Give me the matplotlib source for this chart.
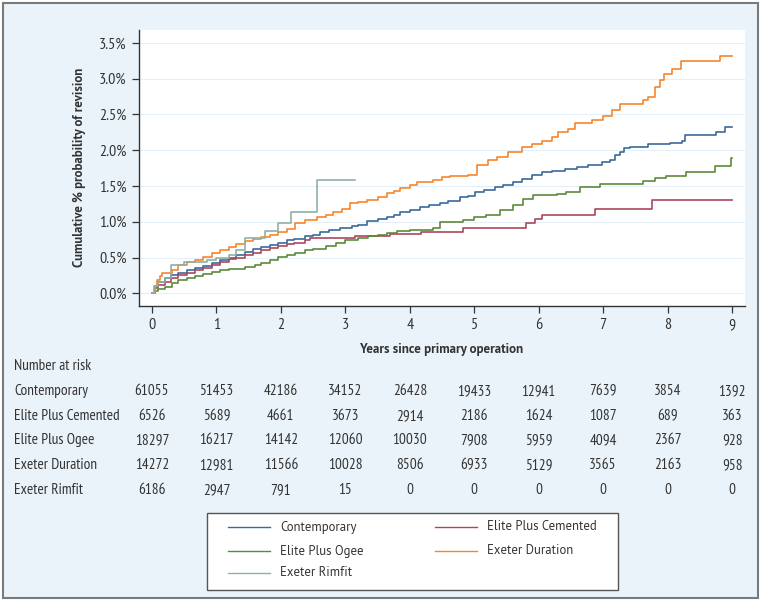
import matplotlib
matplotlib.use('Agg')
import matplotlib.pyplot as plt
from matplotlib.patches import Rectangle
from matplotlib.lines import Line2D

plt.close('all')

# ---------------------------------------------------------------------------
# data (years, cumulative % revision)
contemp_t = [0, 0.05, 0.1, 0.2, 0.3, 0.41, 0.55, 0.67, 0.8, 0.93, 1.05, 1.19, 1.3, 1.44, 1.57,
             1.7, 1.83, 1.96, 2.1, 2.2, 2.37, 2.5, 2.61, 2.75, 2.92, 3.1, 3.2, 3.33, 3.5, 3.64,
             3.75, 3.85, 4.0, 4.16, 4.3, 4.47, 4.6, 4.78, 4.9, 5.01, 5.15, 5.32, 5.45, 5.6, 5.74,
             5.9, 6.05, 6.2, 6.41, 6.6, 6.77, 6.98, 7.1, 7.18, 7.26, 7.33, 7.42, 7.7, 8.03, 8.22,
             8.27, 8.75, 8.89, 9.0]
contemp_y = [0, 0.10, 0.16, 0.22, 0.25, 0.28, 0.32, 0.35, 0.38, 0.42, 0.46, 0.50, 0.54, 0.58, 0.62,
             0.65, 0.68, 0.71, 0.74, 0.76, 0.80, 0.82, 0.86, 0.89, 0.92, 0.94, 0.96, 1.01, 1.04, 1.07,
             1.10, 1.13, 1.16, 1.20, 1.23, 1.26, 1.29, 1.34, 1.36, 1.42, 1.45, 1.48, 1.52, 1.56, 1.60,
             1.66, 1.69, 1.71, 1.74, 1.77, 1.79, 1.83, 1.86, 1.93, 1.98, 2.03, 2.05, 2.09, 2.10, 2.13,
             2.21, 2.26, 2.32, 2.32]

cemented_t = [0, 0.05, 0.1, 0.2, 0.3, 0.41, 0.55, 0.67, 0.8, 0.93, 1.05, 1.19, 1.3, 1.44, 1.57,
              1.7, 1.83, 1.96, 2.1, 2.2, 2.37, 2.45, 3.15, 3.7, 4.18, 4.83, 5.81, 5.94, 6.05, 6.88,
              7.76, 9.0]
cemented_y = [0, 0.08, 0.12, 0.16, 0.21, 0.25, 0.29, 0.33, 0.36, 0.40, 0.44, 0.48, 0.50, 0.53, 0.57,
              0.60, 0.63, 0.66, 0.69, 0.71, 0.74, 0.77, 0.80, 0.83, 0.86, 0.91, 0.98, 1.04, 1.09, 1.18,
              1.30, 1.30]

ogee_t = [0, 0.05, 0.1, 0.2, 0.31, 0.41, 0.55, 0.67, 0.8, 0.93, 1.05, 1.19, 1.44, 1.6, 1.7,
          1.83, 1.96, 2.1, 2.22, 2.37, 2.5, 2.7, 2.85, 3.0, 3.2, 3.35, 3.5, 3.65, 3.8, 4.0,
          4.36, 4.47, 4.83, 5.0, 5.19, 5.4, 5.6, 5.76, 5.91, 6.28, 6.43, 6.64, 6.95, 7.62, 7.8,
          7.98, 8.29, 8.73, 8.98, 9.0]
ogee_y = [0, 0.03, 0.06, 0.09, 0.14, 0.19, 0.22, 0.24, 0.27, 0.30, 0.32, 0.34, 0.37, 0.40, 0.43,
          0.47, 0.51, 0.54, 0.57, 0.60, 0.62, 0.66, 0.70, 0.74, 0.77, 0.80, 0.82, 0.85, 0.87, 0.88,
          0.92, 1.00, 1.03, 1.06, 1.09, 1.16, 1.23, 1.32, 1.37, 1.39, 1.42, 1.48, 1.53, 1.57, 1.61,
          1.64, 1.70, 1.78, 1.89, 1.89]

duration_t = [0, 0.04, 0.08, 0.12, 0.15, 0.31, 0.41, 0.55, 0.67, 0.8, 0.93, 1.05, 1.19, 1.3, 1.44,
              1.57, 1.7, 1.83, 1.96, 2.1, 2.22, 2.37, 2.56, 2.7, 2.81, 2.95, 3.07, 3.2, 3.33, 3.5,
              3.64, 3.75, 3.85, 4.0, 4.11, 4.36, 4.5, 4.62, 4.9, 5.05, 5.21, 5.35, 5.52, 5.74, 5.9,
              6.05, 6.2, 6.3, 6.45, 6.56, 6.82, 7.0, 7.13, 7.26, 7.62, 7.7, 7.8, 7.88, 7.95, 8.07,
              8.2, 8.81, 9.0]
duration_y = [0, 0.10, 0.18, 0.24, 0.28, 0.32, 0.40, 0.44, 0.47, 0.51, 0.56, 0.60, 0.65, 0.69, 0.73,
              0.76, 0.79, 0.82, 0.86, 0.90, 0.98, 1.02, 1.07, 1.09, 1.13, 1.18, 1.26, 1.28, 1.30, 1.35,
              1.40, 1.43, 1.47, 1.51, 1.55, 1.58, 1.62, 1.64, 1.66, 1.79, 1.87, 1.90, 1.98, 2.05, 2.09,
              2.13, 2.18, 2.26, 2.30, 2.38, 2.42, 2.48, 2.56, 2.64, 2.70, 2.75, 2.89, 2.98, 3.07, 3.13,
              3.24, 3.32, 3.32]

rimfit_t = [0, 0.05, 0.1, 0.2, 0.3, 0.5, 0.85, 1.0, 1.2, 1.3, 1.45, 1.75, 1.95, 2.15, 2.56, 3.15]
rimfit_y = [0, 0.10, 0.16, 0.22, 0.39, 0.44, 0.47, 0.50, 0.53, 0.61, 0.78, 0.87, 0.98, 1.14, 1.58, 1.58]

names = ['Contemporary', 'Elite Plus Cemented', 'Elite Plus Ogee', 'Exeter Duration', 'Exeter Rimfit']
couleurs = ['#3b6b98', '#a9475c', '#5b8a3b', '#f5862c', '#8fb0a6']

years = [0, 1, 2, 3, 4, 5, 6, 7, 8, 9]
at_risk_contemp = [61055, 51453, 42186, 34152, 26428, 19433, 12941, 7639, 3854, 1392]
at_risk_cemented = [6526, 5689, 4661, 3673, 2914, 2186, 1624, 1087, 689, 363]
at_risk_ogee = [18297, 16217, 14142, 12060, 10030, 7908, 5959, 4094, 2367, 928]
at_risk_duration = [14272, 12981, 11566, 10028, 8506, 6933, 5129, 3565, 2163, 958]
at_risk_rimfit = [6186, 2947, 791, 15, 0, 0, 0, 0, 0, 0]

yticks = [0, 0.5, 1.0, 1.5, 2.0, 2.5, 3.0, 3.5]

############################################################################
W, H = 760, 601
narrow = ['PT Sans Narrow', 'Fira Sans Condensed', 'Roboto Condensed', 'DejaVu Sans']
humanist = ['PT Sans', 'Source Sans 3', 'Lato', 'DejaVu Sans']
grey = '#333333'
fond = '#eaf3fa'


def fx(px):
    return px / W


def fy(py):
    return 1 - py / H


fig = plt.figure(figsize=(W / 100, H / 100), dpi=100)
fig.patch.set_facecolor('white')

# light blue panel with grey frame
fig.patches.append(Rectangle((fx(2.5), fy(597.5)), fx(755), (595) / H, transform=fig.transFigure,
                             facecolor=fond, edgecolor='#7a7a7a', linewidth=1.5, zorder=-5))

ax = fig.add_axes([fx(139), fy(305.5), fx(745 - 139), (305.5 - 30) / H])
ax.set_facecolor('white')

series = [(contemp_t, contemp_y), (cemented_t, cemented_y), (ogee_t, ogee_y),
          (duration_t, duration_y), (rimfit_t, rimfit_y)]
for (t, y), nom, c in zip(series, names, couleurs):
    ax.step(t, y, where='post', color=c, linewidth=1.2, label=nom, zorder=3)

ax.set_xlim(-0.2, 9.2)
ax.set_ylim(-0.17, 3.68)
ax.set_yticks(yticks)
ax.set_yticklabels(['%.1f%%' % v for v in yticks])
ax.set_xticks(years)
ax.grid(axis='y', color='#e4eff7', linewidth=0.8, zorder=0)
ax.grid(axis='x', visible=False)
for s in ['top', 'right']:
    ax.spines[s].set_visible(False)
for s in ['left', 'bottom']:
    ax.spines[s].set_color(grey)
    ax.spines[s].set_linewidth(1.0)
ax.tick_params(axis='both', direction='out', length=5, width=0.9, color=grey,
               labelcolor=grey, labelsize=11.5, pad=4)
for lab in ax.get_xticklabels() + ax.get_yticklabels():
    lab.set_family(narrow)

fig.text(fx(79), fy(167), 'Cumulative % probability of revision', rotation=90,
         ha='center', va='center', fontsize=9.3, fontweight='bold', color=grey, family=humanist)
fig.text(fx(442), fy(350), 'Years since primary operation', ha='center', va='center',
         fontsize=9.4, fontweight='bold', color=grey, family=humanist)

# number at risk table
fig.text(fx(14), fy(366), 'Number at risk', ha='left', va='center', fontsize=11,
         color=grey, family=narrow)
rows = [at_risk_contemp, at_risk_cemented, at_risk_ogee, at_risk_duration, at_risk_rimfit]
row_y = [391, 416, 440, 465, 490]
for nom, vals, py in zip(names, rows, row_y):
    fig.text(fx(14), fy(py), nom, ha='left', va='center', fontsize=11, color=grey, family=narrow)
    for yr, v in zip(years, vals):
        # column centred on the axis tick of that year
        xd = ax.transData.transform((yr, 0))[0]
        xf = fig.transFigure.inverted().transform((xd, 0))[0]
        fig.text(xf, fy(py), str(v), ha='center', va='center', fontsize=11,
                 color=grey, family=narrow)

# legend box drawn by hand to keep the exact layout
fig.patches.append(Rectangle((fx(207), fy(590)), fx(618 - 207), (590 - 513) / H,
                             transform=fig.transFigure, facecolor='white',
                             edgecolor='#555555', linewidth=1.0, zorder=1))
leg_pos = [(228, 527), (435, 527), (228, 551), (435, 551), (228, 573)]
for nom, c, (px, py) in zip(names, couleurs, leg_pos):
    fig.lines.append(Line2D([fx(px), fx(px + 42)], [fy(py), fy(py)], transform=fig.transFigure,
                            color=c, linewidth=1.0, zorder=2))
    fig.text(fx(px + 52), fy(py), nom, ha='left', va='center', fontsize=9.2,
             color=grey, family=humanist)

fig.savefig('out.png', dpi=100, facecolor=fig.get_facecolor())
